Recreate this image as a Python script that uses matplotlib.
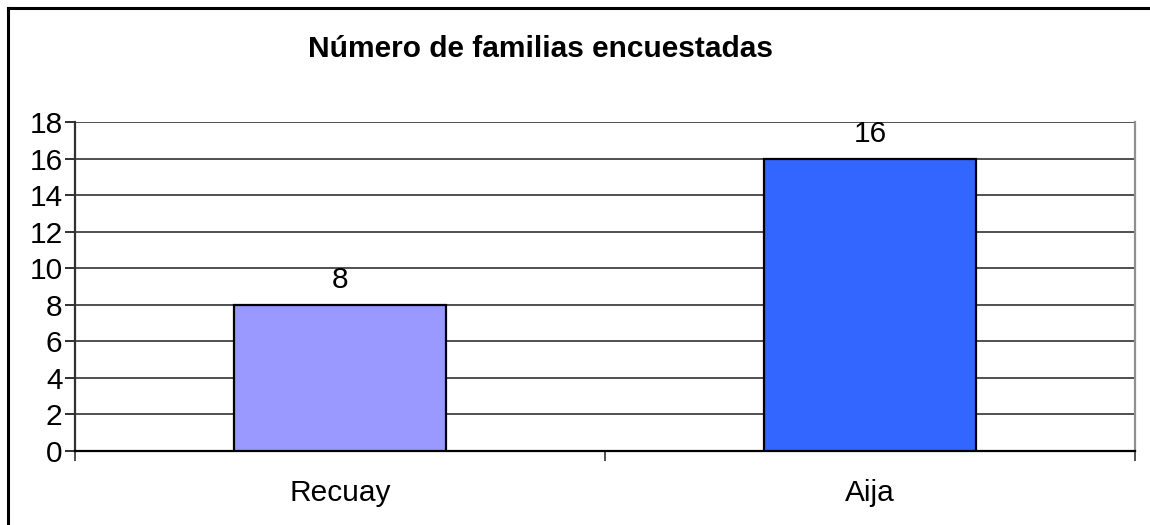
import numpy as np
import matplotlib
matplotlib.use('Agg')
import matplotlib.pyplot as plt
from matplotlib.lines import Line2D

plt.rcParams['font.family'] = ['Liberation Sans', 'DejaVu Sans']

########### data ###########
lugares = ['Recuay', 'Aija']
familias = [8, 16]
colores = ['#9999FF', '#3366FF']
yticks = np.arange(0, 20, 2)

fs = 21.5   # nearly all text has the same size

########### figure ###########
fig = plt.figure(figsize=(11.5, 5.25), dpi=100)
ax = fig.add_axes([75/1150, 1-451/525, (1135-75)/1150, (451-122)/525])

x = np.arange(len(lugares))
ax.bar(x, familias, width=0.40, color=colores, edgecolor='black', linewidth=1.6, zorder=3)

for xi, v in zip(x, familias):
    ax.text(xi, v + 0.6, str(v), ha='center', va='bottom', fontsize=fs)

ax.set_xlim(-0.5, 1.5)
ax.set_ylim(0, 18)
ax.set_yticks(yticks)
ax.set_yticklabels([str(t) for t in yticks], fontsize=fs)
ax.yaxis.grid(True, color='#505050', linewidth=1.4, zorder=0)

# category labels centered, tick marks on the borders
ax.set_xticks(x)
ax.set_xticklabels(lugares, fontsize=fs)
ax.tick_params(axis='x', which='major', length=0, pad=20)
ax.set_xticks([-0.5, 0.5, 1.5], minor=True)
ax.tick_params(axis='x', which='minor', length=7, width=1.4, color='#505050', direction='out')
ax.tick_params(axis='y', length=7, width=1.4, color='#303030', direction='out', pad=2)

ax.spines['top'].set_visible(False)
ax.spines['left'].set_color('#303030')
ax.spines['left'].set_linewidth(1.6)
ax.spines['bottom'].set_color('black')
ax.spines['bottom'].set_linewidth(1.6)
ax.spines['right'].set_color('#909090')
ax.spines['right'].set_linewidth(1.6)

fig.text(541/1150, 1-57/525, 'Número de familias encuestadas', ha='center', va='baseline',
         fontsize=fs, fontweight='bold')

# outer frame (only left and top visible)
fig.add_artist(Line2D([7.5/1150, 7.5/1150], [0, 1-7.5/525], color='black', linewidth=2.2))
fig.add_artist(Line2D([7.5/1150, 1], [1-7.5/525, 1-7.5/525], color='black', linewidth=2.2))

plt.savefig('out.png', dpi=100)
plt.close()
